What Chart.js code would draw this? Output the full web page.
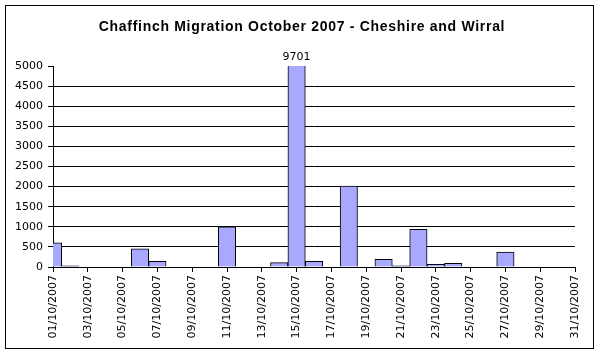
<!DOCTYPE html>
<html>
<head>
<meta charset="utf-8">
<script src="https://cdn.jsdelivr.net/npm/chart.js@4"></script>
<style>
  html, body { margin: 0; padding: 0; background: #fff; }
  #wrap { width: 600px; height: 354px; }
</style>
</head>
<body>
<div id="wrap"><canvas id="myChart" width="600" height="354"></canvas></div>
<script>
const title = 'Chaffinch Migration October 2007 - Cheshire and Wirral';
const days = ['01/10/2007', '02/10/2007', '03/10/2007', '04/10/2007', '05/10/2007', '06/10/2007',
  '07/10/2007', '08/10/2007', '09/10/2007', '10/10/2007', '11/10/2007', '12/10/2007',
  '13/10/2007', '14/10/2007', '15/10/2007', '16/10/2007', '17/10/2007', '18/10/2007',
  '19/10/2007', '20/10/2007', '21/10/2007', '22/10/2007', '23/10/2007', '24/10/2007',
  '25/10/2007', '26/10/2007', '27/10/2007', '28/10/2007', '29/10/2007', '30/10/2007',
  '31/10/2007'];
const counts = [600, 30, 0, 0, 0, 450, 140, 0, 0, 0, 1000, 0, 0, 110, 9701, 140, 0, 2010,
  0, 190, 30, 940, 65, 90, 0, 0, 370, 0, 0, 0, 0];
const yTicks = [0, 500, 1000, 1500, 2000, 2500, 3000, 3500, 4000, 4500, 5000];

const FONT = '"DejaVu Sans", Verdana, sans-serif';

// white page, outer frame and the title (drawn here so it can be letter-spaced)
const framePlugin = {
  id: 'frame',
  beforeDraw(chart) {
    const c = chart.ctx;
    c.save();
    c.fillStyle = '#fff';
    c.fillRect(0, 0, chart.width, chart.height);
    c.strokeStyle = '#000';
    c.lineWidth = 1;
    c.strokeRect(5.5, 5.5, 588, 343);
    c.font = 'bold 14px "Liberation Sans", Arial, sans-serif';
    c.letterSpacing = '0.7px';
    c.fillStyle = '#000';
    c.textAlign = 'center';
    c.textBaseline = 'alphabetic';
    c.fillText(title, 302, 31);
    c.restore();
  }
};

// label for bars that run off the top of the axis
const overflowLabel = {
  id: 'overflowLabel',
  afterDatasetsDraw(chart) {
    const c = chart.ctx;
    const yMax = chart.scales.y.max;
    const meta = chart.getDatasetMeta(0);
    c.save();
    c.font = '11px ' + FONT;
    c.fillStyle = '#000';
    c.textAlign = 'center';
    c.textBaseline = 'middle';
    counts.forEach((v, i) => {
      if (v > yMax) {
        const bar = meta.data[i];
        c.fillText(String(v), bar.x, chart.chartArea.top - 9);
      }
    });
    c.restore();
  }
};

const ctx = document.getElementById('myChart').getContext('2d');

const chart = new Chart(ctx, {
  type: 'bar',
  data: {
    labels: days,
    datasets: [{
      data: counts,
      backgroundColor: '#a8a8ff',
      borderColor: '#000',
      borderWidth: 1,
      barPercentage: 1,
      categoryPercentage: 1,
      clip: 0
    }]
  },
  options: {
    responsive: false,
    animation: false,
    layout: { padding: { left: 0, right: 25, top: 66, bottom: 0 } },
    plugins: {
      legend: { display: false },
      tooltip: { enabled: false },
      title: { display: false }
    },
    scales: {
      x: {
        offset: false,
        grid: {
          offset: false,
          drawOnChartArea: false,
          drawTicks: true,
          tickLength: 5,
          color: '#000',
          tickColor: '#000'
        },
        border: { display: true, color: '#000' },
        ticks: {
          autoSkip: false,
          minRotation: 90,
          maxRotation: 90,
          padding: 3,
          color: '#000',
          font: { family: FONT, size: 11 },
          callback: (val, i) => (i % 2 === 0 ? days[i] : null)
        },
        afterFit: s => { s.height = 87; }
      },
      y: {
        min: yTicks[0],
        max: yTicks[yTicks.length - 1],
        grid: {
          tickLength: 5,
          color: c => (c.tick && c.tick.value === 5000 ? 'rgba(0,0,0,0)' : '#000'),
          tickColor: '#000'
        },
        border: { display: true, color: '#000' },
        afterBuildTicks: s => { s.ticks = yTicks.map(v => ({ value: v })); },
        ticks: {
          padding: 5,
          color: '#000',
          font: { family: FONT, size: 11 },
          callback: v => String(v)
        },
        afterFit: s => { s.width = 53; }
      }
    }
  },
  plugins: [framePlugin, overflowLabel]
});
</script>
</body>
</html>
